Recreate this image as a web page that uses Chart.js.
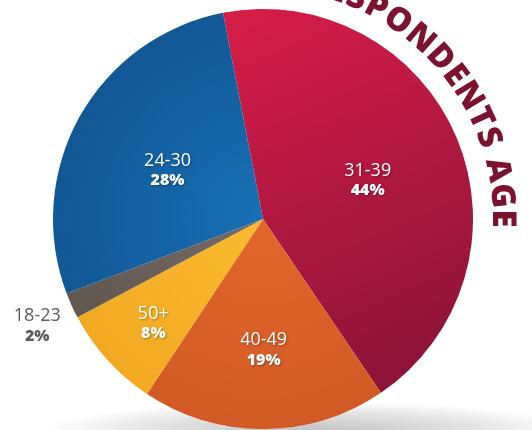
<!DOCTYPE html>
<html>
<head>
<meta charset="utf-8">
<script src="https://cdn.jsdelivr.net/npm/chart.js@4.4.0/dist/chart.umd.min.js"></script>
<style>
  html, body { margin: 0; padding: 0; background: #fff; }
  #wrap { width: 532px; height: 430px; }
</style>
</head>
<body>
<div id="wrap"><canvas id="chart-age" width="532" height="430"></canvas></div>
<script>
// respondents by age group (percent)
var ageGroups = ['31-39', '40-49', '50+', '18-23', '24-30'];
var agePercent = [44, 19, 8, 2, 28];
var titleText = 'RESPONDENTS AGE';

// slice colours: light / dark end of each gradient
var sliceLight = ['#d61d48', '#e3672b', '#fbbb2e', '#776c64', '#186fb4'];
var sliceDark = ['#8b1338', '#d05925', '#f1a922', '#5f5650', '#115794'];
// label distance from centre, as a share of the radius
var labelDist = [0.54, 0.6, 0.705, 1.18, 0.52];

function sliceFill(context) {
    var chart = context.chart;
    var area = chart.chartArea;
    var i = context.dataIndex;
    if (!area) return sliceLight[i];
    var c = chart.ctx;
    var cx = (area.left + area.right) / 2;
    var cy = (area.top + area.bottom) / 2;
    var r = (area.right - area.left) / 2;
    var g;
    if (i == 0) {
        g = c.createLinearGradient(cx - 0.1 * r, area.top, cx + 0.7 * r, area.bottom - 0.2 * r);
    } else {
        g = c.createRadialGradient(cx, cy, 0, cx, cy, r * 1.05);
    }
    g.addColorStop(0, sliceLight[i]);
    g.addColorStop(1, sliceDark[i]);
    return g;
}

// soft floor shadow under the pie
var floorShadow = {
    id: 'floorShadow',
    beforeDatasetsDraw: function(chart) {
        var c = chart.ctx;
        var area = chart.chartArea;
        var cx = (area.left + area.right) / 2 + 50;
        var cy = area.bottom + 2;
        c.save();
        c.translate(cx, cy);
        c.scale(1, 0.11);
        var g = c.createRadialGradient(0, 0, 0, 0, 0, 270);
        g.addColorStop(0, 'rgba(0,0,0,0.24)');
        g.addColorStop(0.6, 'rgba(0,0,0,0.11)');
        g.addColorStop(1, 'rgba(0,0,0,0)');
        c.fillStyle = g;
        c.beginPath();
        c.arc(0, 0, 270, 0, Math.PI * 2);
        c.fill();
        c.restore();
    }
};

// two-line labels: group name + percent
var sliceLabels = {
    id: 'sliceLabels',
    afterDatasetsDraw: function(chart) {
        var c = chart.ctx;
        var meta = chart.getDatasetMeta(0);
        meta.data.forEach(function(arc, i) {
            var mid = (arc.startAngle + arc.endAngle) / 2;
            var d = arc.outerRadius * labelDist[i];
            var x = arc.x + Math.cos(mid) * d;
            var y = arc.y + Math.sin(mid) * d + 5;
            var inside = labelDist[i] < 1;
            c.save();
            c.textAlign = 'center';
            c.textBaseline = 'middle';
            if (inside) {
                c.fillStyle = '#ffffff';
                c.shadowColor = 'rgba(0,0,0,0.35)';
                c.shadowBlur = 2;
                c.shadowOffsetX = 1;
                c.shadowOffsetY = 1;
            } else {
                c.fillStyle = '#5b5b5b';
            }
            c.font = '400 18px "Open Sans"';
            c.fillText(ageGroups[i], x, y - 10);
            c.font = '800 16px "Open Sans"';
            c.fillText(agePercent[i] + '%', x, y + 10);
            c.restore();
        });
    }
};

// title bent round the top right of the pie
var arcTitle = {
    id: 'arcTitle',
    afterDraw: function(chart) {
        var c = chart.ctx;
        var arc = chart.getDatasetMeta(0).data[0];
        var base = arc.outerRadius + 20;
        var rMid = base + 12;
        var spacing = 2;
        c.save();
        c.font = '800 33px "Open Sans"';
        c.fillStyle = '#7b1230';
        c.textAlign = 'center';
        c.textBaseline = 'alphabetic';
        var chars = titleText.split('');
        var widths = chars.map(function(ch) { return c.measureText(ch).width + spacing; });
        var total = widths.reduce(function(a, b) { return a + b; }, 0);
        var ang = 0.04 - total / rMid;
        chars.forEach(function(ch, k) {
            var a = ang + widths[k] / 2 / rMid;
            c.save();
            c.translate(arc.x + Math.cos(a) * base, arc.y + Math.sin(a) * base);
            c.rotate(a + Math.PI / 2);
            c.fillText(ch, 0, 0);
            c.restore();
            ang += widths[k] / rMid;
        });
        c.restore();
    }
};

var chartAge = new Chart(document.getElementById('chart-age'), {
    type: 'pie',
    data: {
        labels: ageGroups,
        datasets: [{
            data: agePercent,
            backgroundColor: sliceFill,
            borderWidth: 0
        }]
    },
    options: {
        responsive: false,
        animation: false,
        rotation: -11,
        layout: {
            padding: { left: 53, right: 59, top: 9, bottom: 1 }
        },
        plugins: {
            legend: { display: false },
            tooltip: { enabled: false }
        }
    },
    plugins: [floorShadow, sliceLabels, arcTitle]
});
</script>
</body>
</html>
